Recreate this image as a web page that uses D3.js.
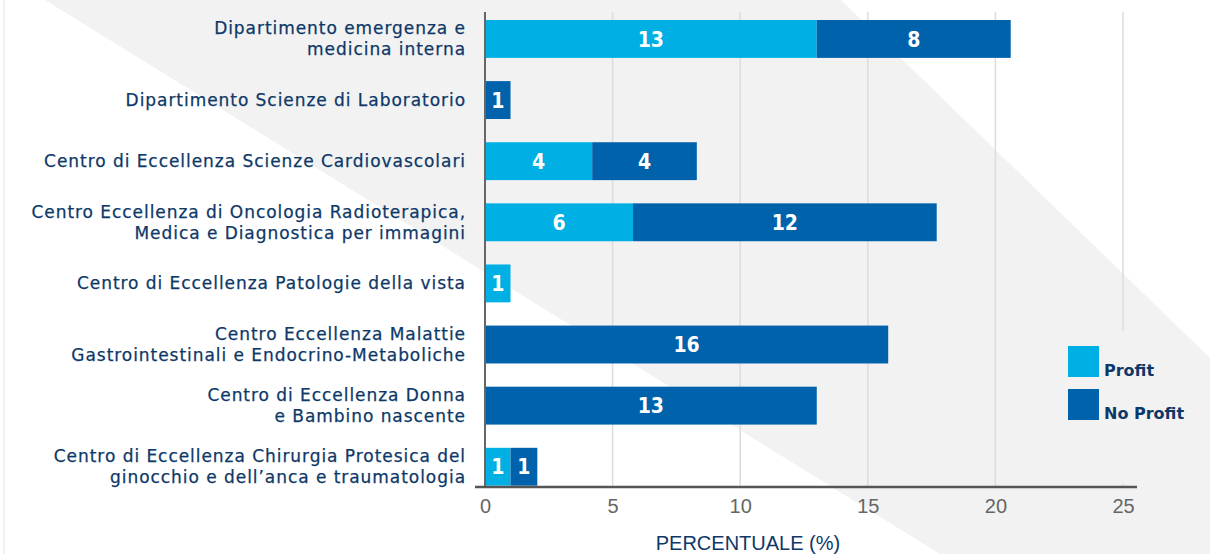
<!DOCTYPE html>
<html>
<head>
<meta charset="utf-8">
<script src="https://cdn.jsdelivr.net/npm/d3@7"></script>
<style>
  body { margin: 0; background: #fff; }
  svg { display: block; }
</style>
</head>
<body>
<div id="vis"></div>
<script>
// dati (percentuali)
const categorie = [
  "Dipartimento emergenza e\nmedicina interna",
  "Dipartimento Scienze di Laboratorio",
  "Centro di Eccellenza Scienze Cardiovascolari",
  "Centro Eccellenza di Oncologia Radioterapica,\nMedica e Diagnostica per immagini",
  "Centro di Eccellenza Patologie della vista",
  "Centro Eccellenza Malattie\nGastrointestinali e Endocrino-Metaboliche",
  "Centro di Eccellenza Donna\ne Bambino nascente",
  "Centro di Eccellenza Chirurgia Protesica del\nginocchio e dell\u2019anca e traumatologia"
];
const profit   = [13.0, 0, 4.2, 5.8, 1.0, 0, 0, 1.0];
const noProfit = [7.6, 1.0, 4.1, 11.9, 0, 15.8, 13.0, 1.05];
const serie = ["Profit", "No Profit"];
const xTicks = [0, 5, 10, 15, 20, 25];
const titoloX = "PERCENTUALE (%)";

const WIDTH = 1210;
const HEIGHT = 554;
const colori = { "Profit": "#00b0e4", "No Profit": "#0062ab" };
const blu = "#0d3868";

const svg = d3.select("#vis")
  .append("svg")
  .attr("width", WIDTH)
  .attr("height", HEIGHT);

// fascia grigia diagonale di sfondo
svg.append("polygon")
  .attr("points", "45,0 841,0 1210,358 1210,554 940,554")
  .attr("fill", "#f2f2f2");
svg.append("line")
  .attr("x1", 4).attr("x2", 4).attr("y1", 0).attr("y2", HEIGHT)
  .attr("stroke", "#ececec").attr("stroke-width", 1.5);

const x = d3.scaleLinear().domain([0, 25]).range([485, 1123]);
const y = d3.scaleBand()
  .domain(categorie)
  .range([20, 485.7])
  .paddingInner(0.38)
  .paddingOuter(0);

// griglia verticale
svg.append("g")
  .selectAll("line")
  .data(xTicks.slice(1))
  .join("line")
  .attr("x1", d => x(d)).attr("x2", d => x(d))
  .attr("y1", 12).attr("y2", 487)
  .attr("stroke", "#dcdcdc")
  .attr("stroke-width", 1.5);

// legenda: riquadro che copre la griglia
svg.append("rect")
  .attr("x", 1050).attr("y", 331).attr("width", 120).attr("height", 153)
  .attr("fill", "#f2f2f2");

// dati per lo stack
const righe = categorie.map((c, i) => ({ cat: c, "Profit": profit[i], "No Profit": noProfit[i] }));
const stack = d3.stack().keys(serie)(righe);

const gruppi = svg.append("g")
  .selectAll("g")
  .data(stack)
  .join("g")
  .attr("fill", d => colori[d.key]);

gruppi.selectAll("rect")
  .data(d => d.filter(p => p[1] - p[0] > 0))
  .join("rect")
  .attr("x", d => x(d[0]))
  .attr("y", d => y(d.data.cat))
  .attr("width", d => x(d[1]) - x(d[0]))
  .attr("height", y.bandwidth());

gruppi.selectAll("text")
  .data(d => d.filter(p => p[1] - p[0] > 0))
  .join("text")
  .attr("x", d => (x(d[0]) + x(d[1])) / 2)
  .attr("y", d => y(d.data.cat) + y.bandwidth() / 2)
  .attr("dy", "0.36em")
  .attr("text-anchor", "middle")
  .attr("fill", "#fff")
  .style("font-family", "'Liberation Sans Narrow', 'DejaVu Sans Condensed', sans-serif")
  .style("font-weight", "bold")
  .style("font-size", "21px")
  .text(d => Math.round(d[1] - d[0]));

// etichette categorie
const etichette = svg.append("g")
  .selectAll("text")
  .data(categorie)
  .join("text")
  .attr("text-anchor", "end")
  .attr("fill", blu)
  .attr("stroke", blu)
  .attr("stroke-width", 0.25)
  .style("font-family", "'DejaVu Sans', sans-serif")
  .style("font-size", "17px")
  .style("letter-spacing", "0.95px")
  .attr("transform", d => `translate(466, ${y(d) + y.bandwidth() / 2})`);

etichette.each(function(d) {
  const linee = d.split("\n");
  const t = d3.select(this);
  linee.forEach((l, i) => {
    t.append("tspan")
      .attr("x", 0)
      .attr("y", (i - (linee.length - 1) / 2) * 21)
      .attr("dy", "0.35em")
      .text(l);
  });
});

// asse y
svg.append("line")
  .attr("x1", 485).attr("x2", 485).attr("y1", 12).attr("y2", 487)
  .attr("stroke", "#666").attr("stroke-width", 2);

// asse x
const asseX = svg.append("g")
  .attr("transform", "translate(0,487)")
  .call(d3.axisBottom(x).tickValues(xTicks).tickSize(0).tickPadding(12));
asseX.select(".domain").remove();
asseX.append("line")
  .attr("x1", 475).attr("x2", 1137)
  .attr("stroke", "#555").attr("stroke-width", 2.5);
asseX.selectAll("text")
  .attr("fill", "#666")
  .style("font-family", "'Liberation Sans Narrow', sans-serif")
  .style("font-size", "20px");

svg.append("text")
  .attr("x", (x(0) + x(25)) / 2 - 56)
  .attr("y", 550)
  .attr("text-anchor", "middle")
  .attr("fill", blu)
  .style("font-family", "'Liberation Sans Narrow', sans-serif")
  .style("font-size", "20px")
  .text(titoloX);

// legenda
const legenda = svg.append("g")
  .selectAll("g")
  .data(serie)
  .join("g")
  .attr("transform", (d, i) => `translate(1068, ${346 + i * 43})`);
legenda.append("rect")
  .attr("width", 31).attr("height", 31)
  .attr("fill", d => colori[d]);
legenda.append("text")
  .attr("x", 36).attr("y", 30)
  .attr("fill", blu)
  .style("font-family", "'DejaVu Sans', sans-serif")
  .style("font-weight", "bold")
  .style("font-size", "16px")
  .text(d => d);
</script>
</body>
</html>
